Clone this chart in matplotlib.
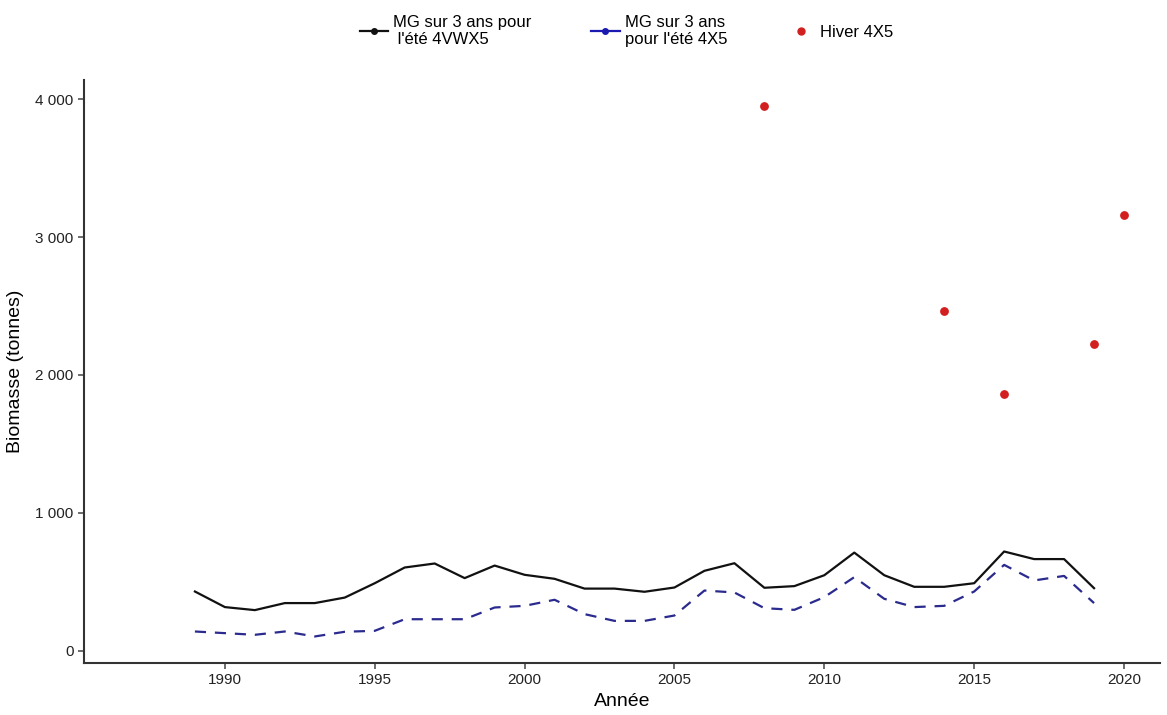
import matplotlib
matplotlib.use("Agg")
import matplotlib.pyplot as plt
from matplotlib.lines import Line2D
from matplotlib.ticker import FuncFormatter

plt.rcParams['font.family'] = ['Liberation Sans', 'DejaVu Sans']

# Moyennes mobiles sur 3 ans, relevé d'été
annees = list(range(1989, 2020))
ete_4vwx5 = [430, 317, 295, 346, 346, 386, 490, 604, 633, 527, 618, 551, 522, 451, 451,
             428, 459, 580, 635, 457, 469, 548, 712, 548, 464, 464, 490, 720, 665, 665, 454]
ete_4x5 = [140, 128, 116, 140, 104, 138, 145, 229, 229, 229, 314, 326, 370, 266, 217,
           217, 256, 437, 423, 309, 297, 389, 534, 377, 317, 326, 430, 623, 510, 543, 346]

# Relevé d'hiver
annees_hiver = [2008, 2014, 2016, 2019, 2020]
hiver_4x5 = [3949, 2464, 1862, 2225, 3159]

noir = '#111111'
bleu = '#2a2a8f'
rouge = '#d21f1f'

fig = plt.figure(figsize=(11.67, 7.15), dpi=100)
ax = fig.add_axes([0.072, 0.073, 0.922, 0.815])

ax.plot(annees, ete_4vwx5, color=noir, lw=1.6)
ax.plot(annees, ete_4x5, color=bleu, lw=1.6, ls=(0, (5, 4)))
ax.scatter(annees_hiver, hiver_4x5, color=rouge, s=28, zorder=3)

ax.set_xlim(1985.3, 2021.2)
ax.set_ylim(-87, 4138)
ax.set_xticks([1990, 1995, 2000, 2005, 2010, 2015, 2020])
ax.set_yticks([0, 1000, 2000, 3000, 4000])
ax.yaxis.set_major_formatter(FuncFormatter(lambda v, p: f'{int(v):,}'.replace(',', ' ')))

for s in ['top', 'right']:
    ax.spines[s].set_visible(False)
for s in ['left', 'bottom']:
    ax.spines[s].set_linewidth(1.5)
    ax.spines[s].set_color('#333333')
ax.tick_params(direction='out', length=4, width=1.1, color='#444444',
               labelsize=11, labelcolor='#222222')

ax.set_xlabel('Année', fontsize=14, labelpad=4)
ax.set_ylabel('Biomasse (tonnes)', fontsize=14, labelpad=8)

poignees = [
    Line2D([0], [0], color=noir, lw=1.6, marker='o', markersize=4),
    Line2D([0], [0], color='#1a1ab0', lw=1.6, marker='o', markersize=4),
    Line2D([0], [0], color=rouge, lw=0, marker='o', markersize=5),
]
etiquettes = ["MG sur 3 ans pour\n l'été 4VWX5", "MG sur 3 ans\npour l'été 4X5", "Hiver 4X5"]
fig.legend(poignees, etiquettes, loc='upper center', bbox_to_anchor=(0.537, 1.0), ncol=3,
           frameon=False, fontsize=12, handlelength=1.7, handletextpad=0.3,
           columnspacing=3.6, labelspacing=0.1)

fig.savefig('out.png', dpi=100)
